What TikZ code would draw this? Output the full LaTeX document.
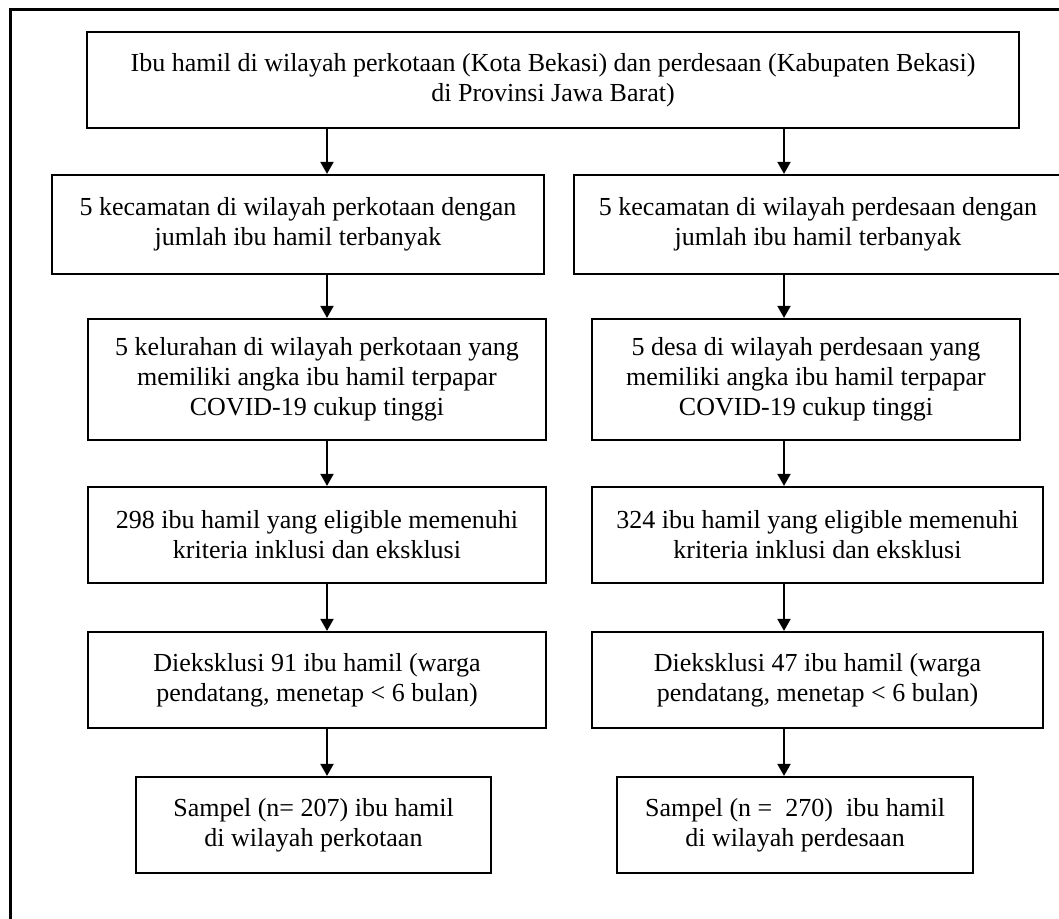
\documentclass[tikz,border=0pt]{standalone}
\usepackage{fontspec}
\setmainfont{Liberation Serif}
\usetikzlibrary{arrows.meta}

\tikzset{kotak/.style 2 args = {minimum width = #1, minimum height = #2},
         panah/.style = {line width = 2pt, -{Triangle[width = 13pt, length = 12pt]}}
        }

\begin{document}
\begin{tikzpicture}[x = 1pt, y = 1pt]
\clip (0,0) rectangle (1059,-918);
\draw[line width = 3pt] (10,-930) -- (10,-9) -- (1070,-9);
\tikzstyle{every node}=[draw, line width = 2.2pt, align = center, inner sep = 0pt,
                        font = \fontsize{26}{30}\selectfont]
\node[kotak = {932pt}{96pt}] at (553,-80) (ibu) {Ibu hamil di wilayah perkotaan (Kota Bekasi) dan perdesaan (Kabupaten Bekasi)\\ di Provinsi Jawa Barat)};
\node[kotak = {492pt}{99pt}] at (298,-224.5) (kecK) {5 kecamatan di wilayah perkotaan dengan\\ jumlah ibu hamil terbanyak};
\node[kotak = {488pt}{99pt}] at (818,-224.5) (kecD) {5 kecamatan di wilayah perdesaan dengan\\ jumlah ibu hamil terbanyak};
\node[kotak = {458pt}{121pt}] at (317,-379.5) (kelK) {5 kelurahan di wilayah perkotaan yang\\ memiliki angka ibu hamil terpapar\\ COVID-19 cukup tinggi};
\node[kotak = {428pt}{121pt}] at (806,-379.5) (desD) {5 desa di wilayah perdesaan yang\\ memiliki angka ibu hamil terpapar\\ COVID-19 cukup tinggi};
\node[kotak = {458pt}{96pt}] at (317,-535) (eliK) {298 ibu hamil yang eligible memenuhi\\ kriteria inklusi dan eksklusi};
\node[kotak = {451pt}{96pt}] at (817.5,-535) (eliD) {324 ibu hamil yang eligible memenuhi\\ kriteria inklusi dan eksklusi};
\node[kotak = {458pt}{96pt}] at (317,-680) (eksK) {Dieksklusi 91 ibu hamil (warga\\ pendatang, menetap < 6 bulan)};
\node[kotak = {451pt}{96pt}] at (817.5,-680) (eksD) {Dieksklusi 47 ibu hamil (warga\\ pendatang, menetap < 6 bulan)};
\node[kotak = {355pt}{96pt}] at (313.5,-825) (sampK) {Sampel (n= 207) ibu hamil\\ di wilayah perkotaan};
\node[kotak = {356pt}{96pt}] at (795,-825) (sampD) {Sampel (n =\ \ 270)\ \ ibu hamil\\ di wilayah perdesaan};
\coordinate (xK) at (327,0);
\coordinate (xD) at (784,0);
\draw[panah] (ibu.south -| xK) -- (kecK.north -| xK);
\draw[panah] (ibu.south -| xD) -- (kecD.north -| xD);
\draw[panah] (kecK.south -| xK) -- (kelK.north -| xK);
\draw[panah] (kecD.south -| xD) -- (desD.north -| xD);
\draw[panah] (kelK.south -| xK) -- (eliK.north -| xK);
\draw[panah] (desD.south -| xD) -- (eliD.north -| xD);
\draw[panah] (eliK.south -| xK) -- (eksK.north -| xK);
\draw[panah] (eliD.south -| xD) -- (eksD.north -| xD);
\draw[panah] (eksK.south -| xK) -- (sampK.north -| xK);
\draw[panah] (eksD.south -| xD) -- (sampD.north -| xD);
\end{tikzpicture}
\end{document}
